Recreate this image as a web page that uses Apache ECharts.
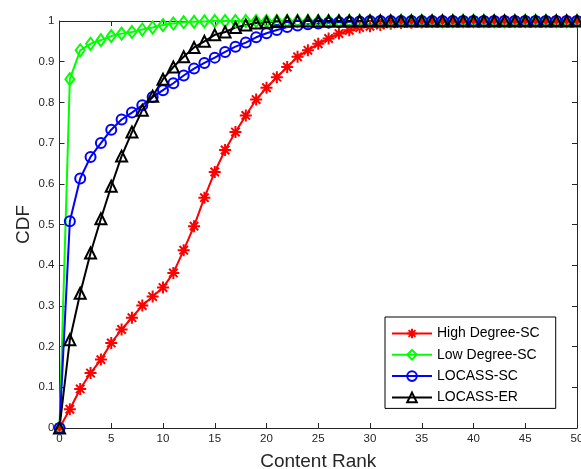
<!DOCTYPE html>
<html><head><meta charset="utf-8">
<script src="https://cdn.jsdelivr.net/npm/echarts@6/dist/echarts.min.js"></script>
<style>html,body{margin:0;padding:0;background:#fff}#c{width:581px;height:469px}</style>
</head><body><div id="c"></div>
<script>
const ranks = [0,1,2,3,4,5,6,7,8,9,10,11,12,13,14,15,16,17,18,19,20,21,22,23,24,25,26,27,28,29,30,31,32,33,34,35,36,37,38,39,40,41,42,43,44,45,46,47,48,49,50];
const highDegreeSC = [0,0.046,0.096,0.135,0.168,0.209,0.242,0.271,0.301,0.323,0.345,0.381,0.437,0.496,0.566,0.629,0.683,0.727,0.768,0.807,0.836,0.862,0.887,0.912,0.928,0.944,0.957,0.969,0.977,0.984,0.987,0.990,0.993,0.995,0.996,0.997,0.998,0.999,0.999,1,1,1,1,1,1,1,1,1,1,1,1];
const lowDegreeSC = [0,0.857,0.928,0.944,0.953,0.963,0.969,0.973,0.979,0.984,0.990,0.994,0.997,0.998,0.999,1,1,1,1,1,1,1,1,1,1,1,1,1,1,1,1,1,1,1,1,1,1,1,1,1,1,1,1,1,1,1,1,1,1,1,1];
const locassSC = [0,0.508,0.613,0.666,0.700,0.733,0.758,0.775,0.793,0.813,0.830,0.847,0.866,0.883,0.897,0.910,0.924,0.937,0.947,0.960,0.970,0.978,0.985,0.989,0.992,0.994,0.996,0.997,0.998,0.999,1,1,1,1,1,1,1,1,1,1,1,1,1,1,1,1,1,1,1,1,1];
const locassER = [0,0.217,0.331,0.430,0.514,0.594,0.668,0.727,0.781,0.815,0.857,0.887,0.912,0.935,0.950,0.966,0.973,0.984,0.990,0.995,0.997,0.999,1,1,1,1,1,1,1,1,1,1,1,1,1,1,1,1,1,1,1,1,1,1,1,1,1,1,1,1,1];
const seriesNames = ['High Degree-SC','Low Degree-SC','LOCASS-SC','LOCASS-ER'];

const FONT = 'Liberation Sans';
const AX = '#262626';
const asterisk = 'path://M0,-10L0,10M-10,0L10,0M-7,-7L7,7M-7,7L7,-7';
function pairs(arr){ return ranks.map((r,i)=>[r,arr[i]]); }
function mk(name, data, color, symbol, size){
  return {
    name, type:'line', data: pairs(data), symbol, symbolSize:size,
    showAllSymbol:true, animation:false, xAxisIndex:0, yAxisIndex:0,
    lineStyle:{color, width:2},
    itemStyle:{color:'rgba(255,255,255,0)', borderColor:color, borderWidth:2},
    emphasis:{disabled:true}
  };
}
const chart = echarts.init(document.getElementById('c'), null, {renderer:'canvas'});
const axisCommon = {
  axisLine:{show:true, onZero:false, lineStyle:{color:AX, width:1}},
  axisTick:{show:true, inside:true, length:5, lineStyle:{color:AX}},
  splitLine:{show:false}
};
chart.setOption({
  backgroundColor:'#fff',
  animation:false,
  grid:{left:59.5, right:4, top:21, bottom:41, outerBoundsMode:'none', containLabel:false},
  legend:{
    orient:'vertical', left:385, top:317,
    itemWidth:40, itemHeight:12, itemGap:7.3,
    padding:[9.5,16,4,6],
    borderColor:'#000', borderWidth:1, backgroundColor:'#fff',
    textStyle:{fontFamily:FONT, fontSize:14, color:'#000'},
    data: seriesNames
  },
  xAxis:[
    Object.assign({type:'value', min:0, max:50, interval:5, name:'Content Rank', nameLocation:'middle', nameGap:24,
      nameMoveOverlap:false,
      nameTextStyle:{fontFamily:FONT, fontSize:19, color:AX},
      axisLabel:{fontFamily:FONT, fontSize:11.5, color:AX, margin:5}}, axisCommon),
    Object.assign({type:'value', min:0, max:50, interval:5, position:'top', axisLabel:{show:false}}, axisCommon)
  ],
  yAxis:[
    Object.assign({type:'value', min:0, max:1, interval:0.1, name:'CDF', nameLocation:'middle', nameGap:26,
      nameMoveOverlap:false,
      nameTextStyle:{fontFamily:FONT, fontSize:19, color:AX},
      axisLabel:{fontFamily:FONT, fontSize:11.5, color:AX, margin:5, formatter:v=>String(Math.round(v*10)/10)}}, axisCommon),
    Object.assign({type:'value', min:0, max:1, interval:0.1, position:'right', axisLabel:{show:false}}, axisCommon)
  ],
  series:[
    mk(seriesNames[0], highDegreeSC, '#ff0000', asterisk, 12),
    mk(seriesNames[1], lowDegreeSC, '#00ff00', 'diamond', [9,12]),
    mk(seriesNames[2], locassSC, '#0000ff', 'circle', 10),
    mk(seriesNames[3], locassER, '#000000', 'triangle', 11)
  ]
});
</script></body></html>
